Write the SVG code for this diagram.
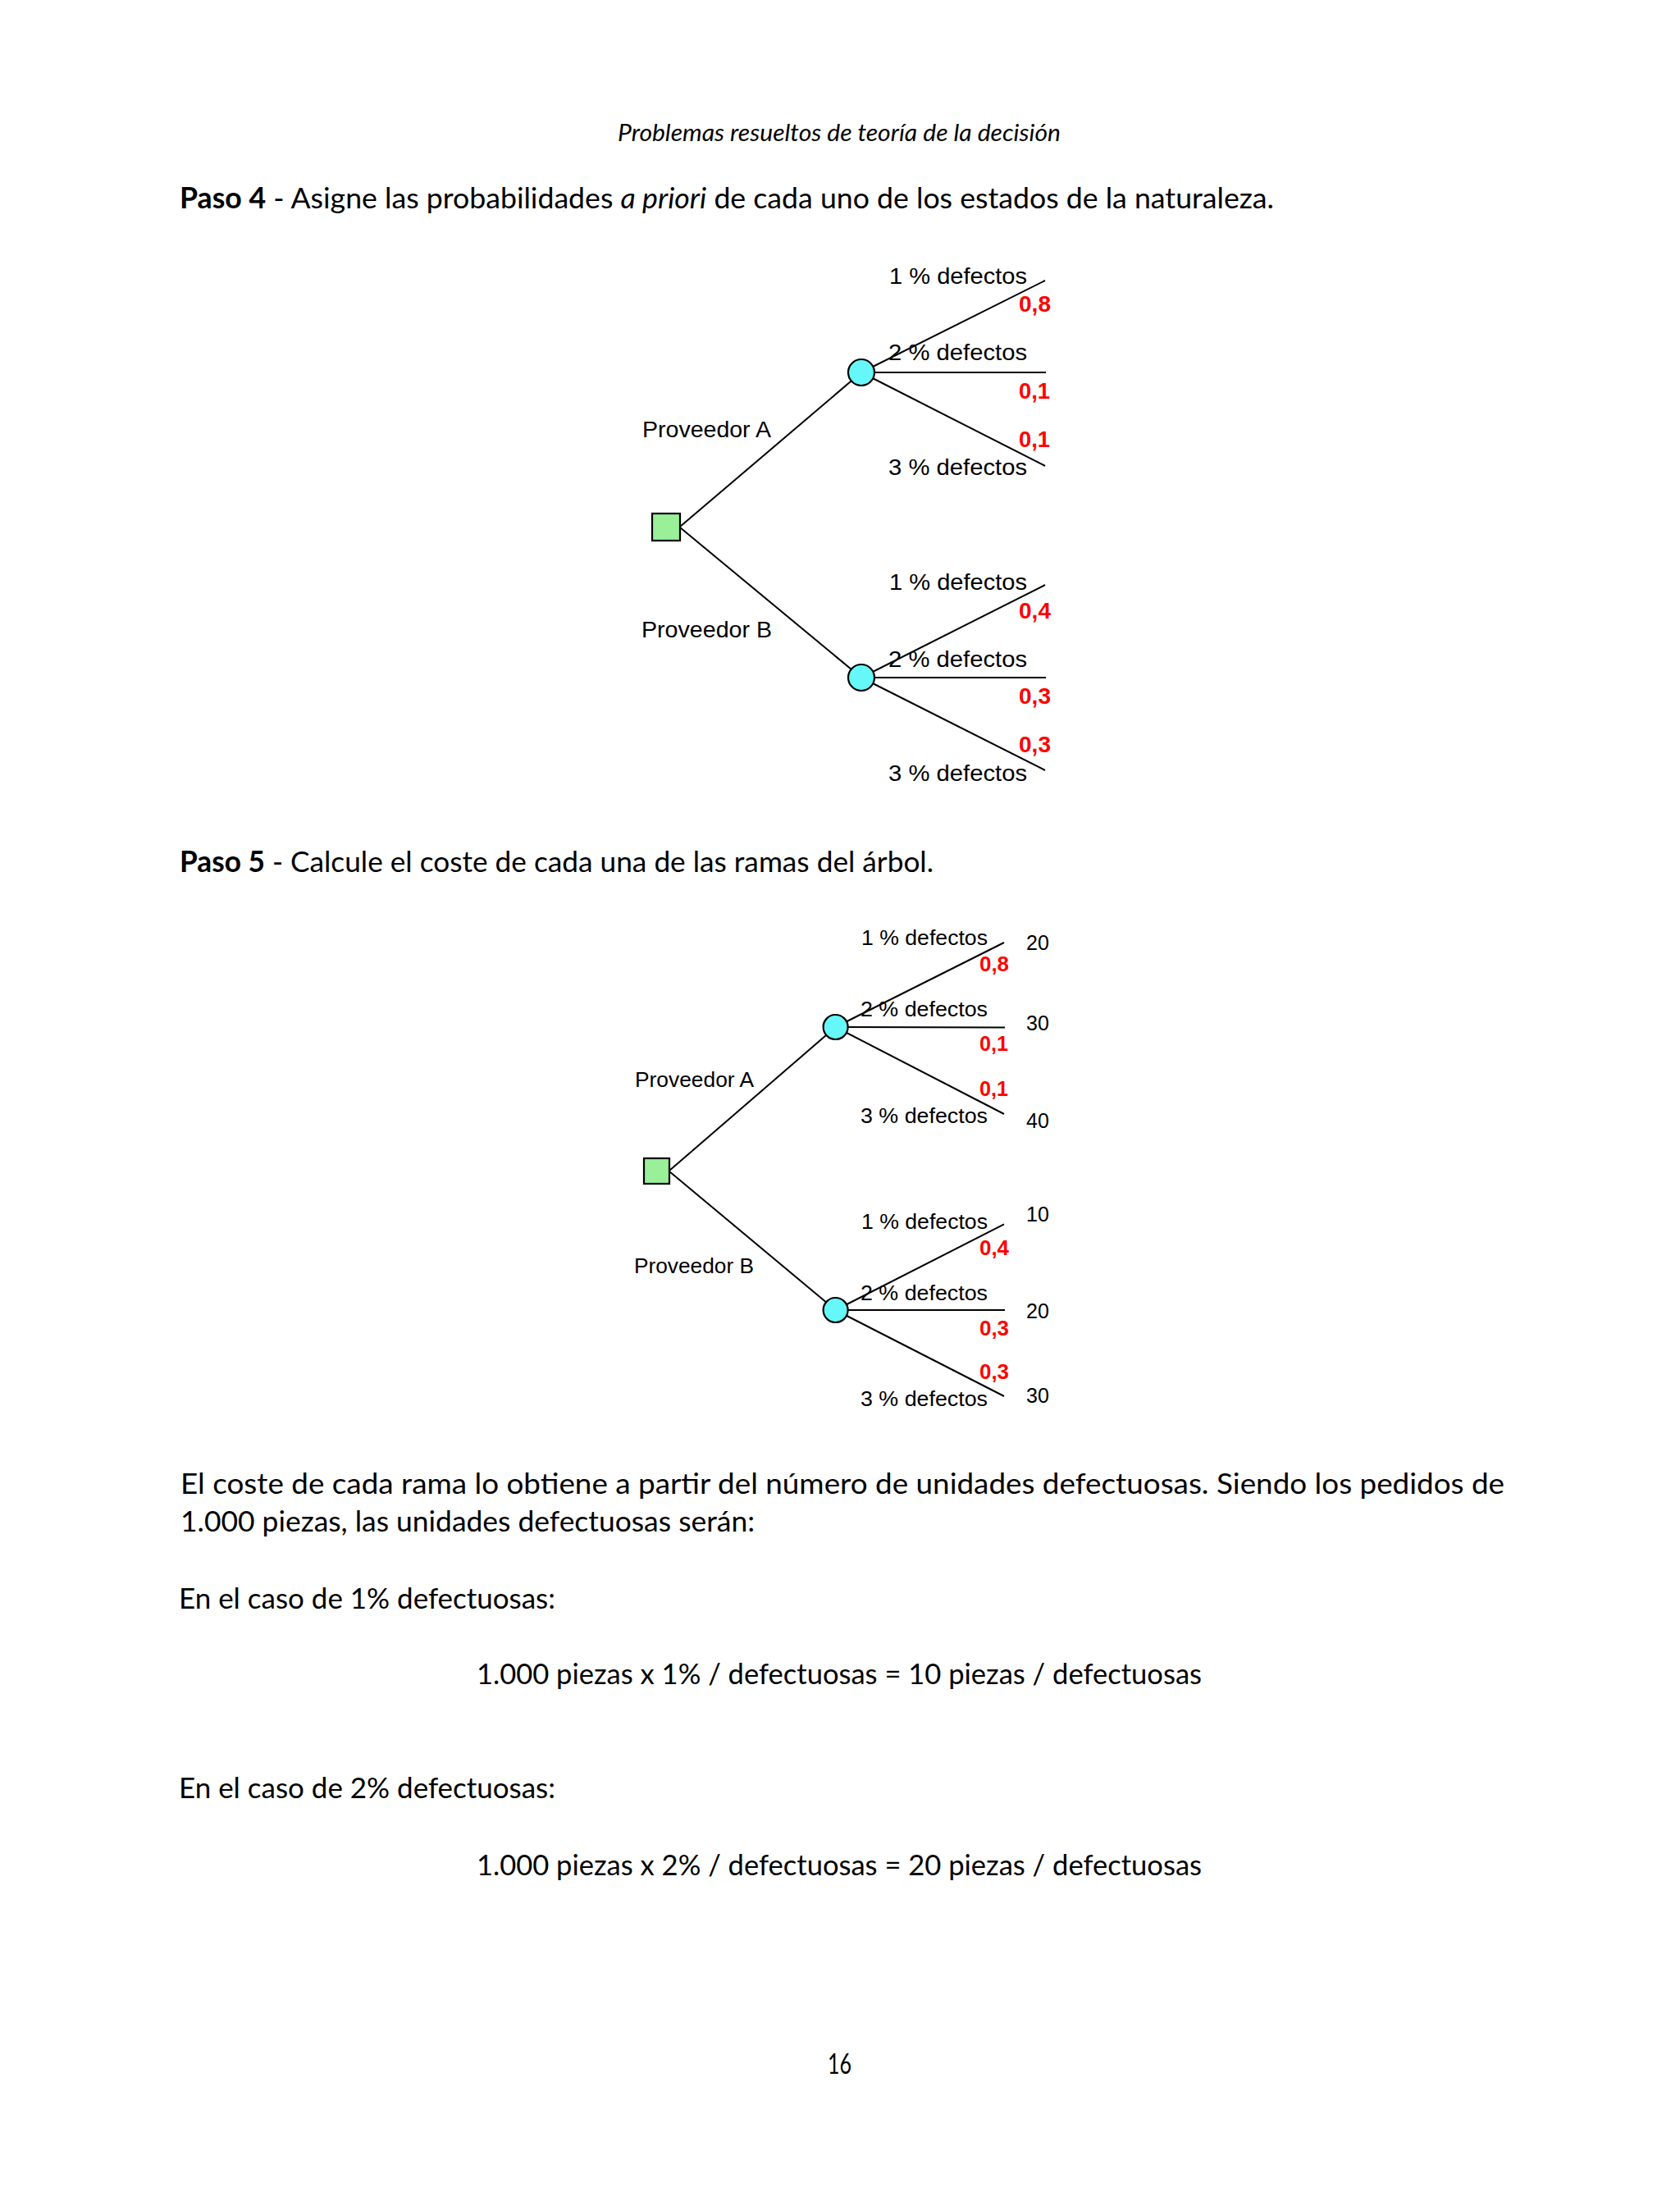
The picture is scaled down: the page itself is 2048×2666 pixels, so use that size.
<svg xmlns="http://www.w3.org/2000/svg" width="2048" height="2666" viewBox="0 0 2048 2666">
<style>
.body{font-family:Lato,"Open Sans","Liberation Sans",sans-serif;font-size:35.5px;fill:#000}
.hdr{font-family:Lato,"Open Sans","Liberation Sans",sans-serif;font-size:28px;font-style:italic;fill:#000}
.b{font-weight:bold}
.i{font-style:italic}
.lbl{font-family:"Liberation Sans",Arial,sans-serif;font-size:28.5px;fill:#000}
.lbl2{font-family:"Liberation Sans",Arial,sans-serif;font-size:26.5px;fill:#000}
.p{font-family:"Liberation Sans",Arial,sans-serif;font-weight:bold;font-size:28.5px;fill:#ff0000}
.p2{font-family:"Liberation Sans",Arial,sans-serif;font-weight:bold;font-size:26px;fill:#ff0000}
.num{font-family:"Liberation Sans",Arial,sans-serif;font-size:25px;fill:#000}
.edge{stroke:#000;stroke-width:2;fill:none}
.dec{fill:#99f099;stroke:#000;stroke-width:2.2}
.chance{fill:#66f8f8;stroke:#000;stroke-width:2.2}
</style>
<rect width="2048" height="2666" fill="#fff"/>

<!-- page text -->
<text class="hdr" x="753" y="172" textLength="540" lengthAdjust="spacingAndGlyphs">Problemas resueltos de teoría de la decisión</text>
<text class="body" x="219" y="254" textLength="1334" lengthAdjust="spacingAndGlyphs"><tspan class="b">Paso 4</tspan> - Asigne las probabilidades <tspan class="i">a priori</tspan> de cada uno de los estados de la naturaleza.</text>
<text class="body" x="219" y="1063" textLength="919" lengthAdjust="spacingAndGlyphs"><tspan class="b">Paso 5</tspan> - Calcule el coste de cada una de las ramas del árbol.</text>
<text class="body" x="220" y="1821" textLength="1614" lengthAdjust="spacingAndGlyphs">El coste de cada rama lo obtiene a partir del número de unidades defectuosas. Siendo los pedidos de</text>
<text class="body" x="220" y="1867" textLength="700" lengthAdjust="spacingAndGlyphs">1.000 piezas, las unidades defectuosas serán:</text>
<text class="body" x="218" y="1961" textLength="459" lengthAdjust="spacingAndGlyphs">En el caso de 1% defectuosas:</text>
<text class="body" x="581" y="2053" textLength="884" lengthAdjust="spacingAndGlyphs">1.000 piezas x 1% / defectuosas = 10 piezas / defectuosas</text>
<text class="body" x="218" y="2192" textLength="459" lengthAdjust="spacingAndGlyphs">En el caso de 2% defectuosas:</text>
<text class="body" x="581" y="2286" textLength="884" lengthAdjust="spacingAndGlyphs">1.000 piezas x 2% / defectuosas = 20 piezas / defectuosas</text>
<text class="body" x="1009" y="2528" textLength="29" lengthAdjust="spacingAndGlyphs">16</text>

<!-- ===== Diagram 1 ===== -->
<g id="connectors1">
  <line class="edge" x1="829" y1="642" x2="1050" y2="454"/>
  <line class="edge" x1="829" y1="643" x2="1050" y2="826"/>
  <line class="edge" x1="1050" y1="454" x2="1274" y2="342"/>
  <line class="edge" x1="1050" y1="454" x2="1275" y2="454"/>
  <line class="edge" x1="1050" y1="454" x2="1274" y2="568"/>
  <line class="edge" x1="1050" y1="826" x2="1274" y2="713"/>
  <line class="edge" x1="1050" y1="826" x2="1275" y2="826"/>
  <line class="edge" x1="1050" y1="826" x2="1274" y2="939"/>
</g>
<g id="d1-decision"><rect class="dec" x="795" y="626" width="34" height="33"/></g>
<g id="d1-chanceA"><circle class="chance" cx="1050" cy="454" r="16"/></g>
<g id="d1-chanceB"><circle class="chance" cx="1050" cy="826" r="16"/></g>
<g id="d1-labels">
  <text class="lbl" x="783" y="533" textLength="157" lengthAdjust="spacingAndGlyphs">Proveedor A</text>
  <text class="lbl" x="782" y="777" textLength="159" lengthAdjust="spacingAndGlyphs">Proveedor B</text>
  <text class="lbl" x="1084" y="345.5" textLength="168" lengthAdjust="spacingAndGlyphs">1 % defectos</text>
  <text class="lbl" x="1083" y="438.5" textLength="169" lengthAdjust="spacingAndGlyphs">2 % defectos</text>
  <text class="lbl" x="1083" y="579" textLength="169" lengthAdjust="spacingAndGlyphs">3 % defectos</text>
  <text class="p" x="1242" y="380" textLength="39" lengthAdjust="spacingAndGlyphs">0,8</text>
  <text class="p" x="1242" y="486" textLength="38" lengthAdjust="spacingAndGlyphs">0,1</text>
  <text class="p" x="1242" y="544.6" textLength="38" lengthAdjust="spacingAndGlyphs">0,1</text>
  <text class="lbl" x="1084" y="719" textLength="168" lengthAdjust="spacingAndGlyphs">1 % defectos</text>
  <text class="lbl" x="1083" y="813" textLength="169" lengthAdjust="spacingAndGlyphs">2 % defectos</text>
  <text class="lbl" x="1083" y="951.5" textLength="169" lengthAdjust="spacingAndGlyphs">3 % defectos</text>
  <text class="p" x="1242" y="754" textLength="39" lengthAdjust="spacingAndGlyphs">0,4</text>
  <text class="p" x="1242" y="858" textLength="39" lengthAdjust="spacingAndGlyphs">0,3</text>
  <text class="p" x="1242" y="917" textLength="39" lengthAdjust="spacingAndGlyphs">0,3</text>
</g>

<!-- ===== Diagram 2 ===== -->
<g id="connectors2">
  <line class="edge" x1="816" y1="1427" x2="1018.6" y2="1252"/>
  <line class="edge" x1="816" y1="1428" x2="1018.6" y2="1597"/>
  <line class="edge" x1="1018.6" y1="1252" x2="1224" y2="1149"/>
  <line class="edge" x1="1018.6" y1="1252" x2="1225" y2="1252.5"/>
  <line class="edge" x1="1018.6" y1="1252" x2="1224" y2="1358"/>
  <line class="edge" x1="1018.6" y1="1597" x2="1224" y2="1492.4"/>
  <line class="edge" x1="1018.6" y1="1597" x2="1225" y2="1597"/>
  <line class="edge" x1="1018.6" y1="1597" x2="1224" y2="1702"/>
</g>
<g id="d2-decision"><rect class="dec" x="785" y="1412" width="31" height="31"/></g>
<g id="d2-chanceA"><circle class="chance" cx="1018.6" cy="1252" r="15"/></g>
<g id="d2-chanceB"><circle class="chance" cx="1018.6" cy="1597" r="15"/></g>
<g id="d2-labels">
  <text class="lbl2" x="774" y="1325" textLength="145" lengthAdjust="spacingAndGlyphs">Proveedor A</text>
  <text class="lbl2" x="773" y="1552" textLength="146" lengthAdjust="spacingAndGlyphs">Proveedor B</text>
  <text class="lbl2" x="1050" y="1152" textLength="154" lengthAdjust="spacingAndGlyphs">1 % defectos</text>
  <text class="lbl2" x="1049" y="1238.6" textLength="155" lengthAdjust="spacingAndGlyphs">2 % defectos</text>
  <text class="lbl2" x="1049" y="1369" textLength="155" lengthAdjust="spacingAndGlyphs">3 % defectos</text>
  <text class="p2" x="1194" y="1184" textLength="36" lengthAdjust="spacingAndGlyphs">0,8</text>
  <text class="p2" x="1194" y="1281.4" textLength="35" lengthAdjust="spacingAndGlyphs">0,1</text>
  <text class="p2" x="1194" y="1335.7" textLength="35" lengthAdjust="spacingAndGlyphs">0,1</text>
  <text class="lbl2" x="1050" y="1497.8" textLength="154" lengthAdjust="spacingAndGlyphs">1 % defectos</text>
  <text class="lbl2" x="1049" y="1584.7" textLength="155" lengthAdjust="spacingAndGlyphs">2 % defectos</text>
  <text class="lbl2" x="1049" y="1714" textLength="155" lengthAdjust="spacingAndGlyphs">3 % defectos</text>
  <text class="p2" x="1194" y="1530.4" textLength="36" lengthAdjust="spacingAndGlyphs">0,4</text>
  <text class="p2" x="1194" y="1627.6" textLength="36" lengthAdjust="spacingAndGlyphs">0,3</text>
  <text class="p2" x="1194" y="1681.4" textLength="36" lengthAdjust="spacingAndGlyphs">0,3</text>
  <text class="num" x="1251" y="1158">20</text>
  <text class="num" x="1251" y="1255.7">30</text>
  <text class="num" x="1251" y="1375.3">40</text>
  <text class="num" x="1251" y="1488.8">10</text>
  <text class="num" x="1251" y="1607">20</text>
  <text class="num" x="1251" y="1710">30</text>
</g>
</svg>
